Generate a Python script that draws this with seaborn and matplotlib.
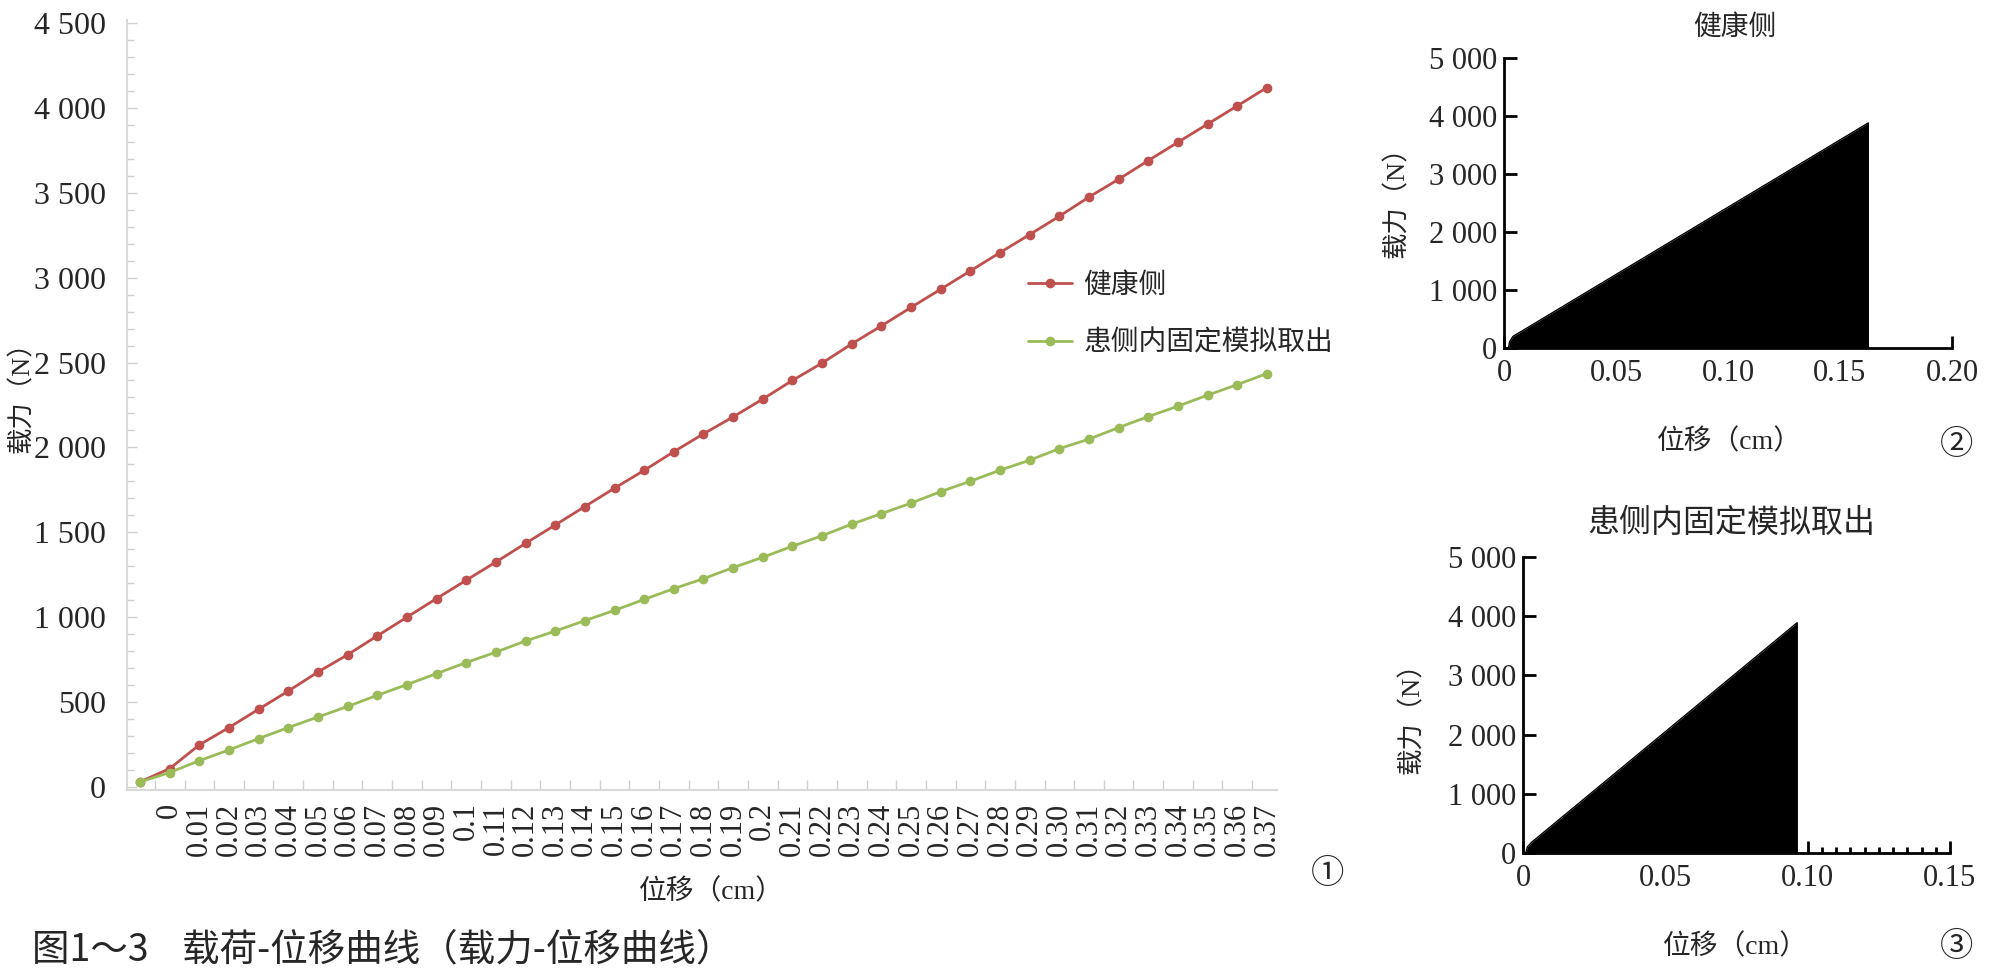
import pandas as pd
import matplotlib.pyplot as plt
import seaborn as sns
from matplotlib.lines import Line2D
from matplotlib.ticker import MultipleLocator, FixedLocator, FuncFormatter

# panel 1: load (N) at each displacement step
disp_labels = ['', '0', '0.01', '0.02', '0.03', '0.04', '0.05', '0.06', '0.07', '0.08', '0.09',
               '0.1', '0.11', '0.12', '0.13', '0.14', '0.15', '0.16', '0.17', '0.18', '0.19',
               '0.2', '0.21', '0.22', '0.23', '0.24', '0.25', '0.26', '0.27', '0.28', '0.29',
               '0.30', '0.31', '0.32', '0.33', '0.34', '0.35', '0.36', '0.37']
healthy_load = [30, 108, 248, 350, 458, 565, 677, 779, 890, 1000,
                1110, 1218, 1325, 1435, 1543, 1652, 1760, 1865, 1975, 2080,
                2180, 2285, 2395, 2497, 2610, 2716, 2825, 2932, 3040, 3148,
                3254, 3362, 3475, 3580, 3690, 3798, 3905, 4012, 4120]
removed_load = [30, 85, 155, 218, 285, 350, 412, 474, 540, 603,
                668, 733, 794, 860, 918, 980, 1040, 1105, 1168, 1227,
                1292, 1353, 1418, 1480, 1548, 1610, 1672, 1740, 1801, 1866,
                1925, 1993, 2049, 2117, 2182, 2243, 2308, 2370, 2435]
series_names = ['健康侧', '患侧内固定模拟取出']
colors = ['#c0504d', '#9bbb59']

# panels 2 and 3: outline of the dense load trace (cm, N)
healthy_disp = [0.002, 0.0025, 0.004, 0.1626, 0.1626]
healthy_trace = [0, 110, 200, 3880, 0]
removed_disp = [0.001, 0.0015, 0.003, 0.0963, 0.0963]
removed_trace = [0, 100, 180, 3890, 0]

W, H = 1993, 977
sns.set_theme(style='white')
plt.rcParams['font.family'] = ['Liberation Serif', 'Noto Sans CJK SC']
CJK = ['Noto Sans CJK SC']

fig = plt.figure(figsize=(W / 100, H / 100), dpi=100)


def box(l, t, r, b):
    return [l / W, 1 - b / H, (r - l) / W, (b - t) / H]


def thousands(v, p):
    return f"{int(round(v)):,}".replace(',', ' ')


# ---- panel 1
df = pd.DataFrame({
    'pos': list(range(len(disp_labels))) * 2,
    'load': healthy_load + removed_load,
    'series': [series_names[0]] * len(healthy_load) + [series_names[1]] * len(removed_load),
})
ax = fig.add_axes(box(127, 20, 1277, 790))
sns.lineplot(data=df, x='pos', y='load', hue='series', palette=colors, marker='o',
             markersize=7, markeredgewidth=0, linewidth=2, legend=False, ax=ax)
ax.set_xlim(-0.44, 38.34)
ax.set_ylim(-18, 4518)
ax.set_xlabel('')
ax.set_ylabel('')
for s in ['top', 'right']:
    ax.spines[s].set_visible(False)
for s in ['left', 'bottom']:
    ax.spines[s].set_color('#d9d9d9')
    ax.spines[s].set_linewidth(1.5)
ax.xaxis.set_major_locator(FixedLocator(range(len(disp_labels))))
ax.set_xticklabels(disp_labels, rotation=90, fontsize=22)
ax.xaxis.set_minor_locator(FixedLocator([i + 0.5 for i in range(-1, len(disp_labels))]))
ax.tick_params(axis='x', which='both', bottom=True)
ax.tick_params(axis='x', which='major', length=0, pad=9)
ax.tick_params(axis='x', which='minor', direction='in', length=7, color='#d0d0d0', width=1)
ax.yaxis.set_major_locator(MultipleLocator(500))
ax.yaxis.set_minor_locator(MultipleLocator(100))
ax.yaxis.set_major_formatter(FuncFormatter(thousands))
ax.tick_params(axis='y', which='both', left=True, direction='in', color='#d0d0d0', width=1)
ax.tick_params(axis='y', which='major', length=7, labelsize=23, pad=15)
ax.tick_params(axis='y', which='minor', length=5)

handles = [Line2D([], [], color=c, marker='o', markersize=7, markeredgewidth=0, linewidth=2)
           for c in colors]
fig.legend(handles, series_names, loc='center left', bbox_to_anchor=(1028 / W, 1 - 314 / H),
           frameon=False, prop={'family': CJK, 'size': 20}, handlelength=1.6,
           handletextpad=0.4, labelspacing=1.0, borderaxespad=0, borderpad=0)

fig.text(21 / W, 1 - 391 / H, '载力（N）', rotation=90, ha='center', va='center', fontsize=19)
fig.text(711 / W, 1 - 892 / H, '位移（cm）', ha='center', va='center', fontsize=20)
fig.text(1328 / W, 1 - 874 / H, '①', ha='center', va='center', fontsize=24)


# ---- panels 2 and 3
def small_panel(rect, disp, load, xmax, minor):
    a = fig.add_axes(rect)
    sns.lineplot(x=disp, y=load, color='black', linewidth=1, estimator=None, sort=False, ax=a)
    a.fill_between(disp, load, color='black', linewidth=0)
    a.set_xlim(0, xmax)
    a.set_ylim(0, 5000)
    for s in ['top', 'right']:
        a.spines[s].set_visible(False)
    for s in ['left', 'bottom']:
        a.spines[s].set_color('black')
        a.spines[s].set_linewidth(2)
    a.xaxis.set_major_locator(MultipleLocator(0.05))
    a.xaxis.set_major_formatter(FuncFormatter(lambda v, p: '0' if abs(v) < 1e-9 else f'{v:.2f}'))
    a.yaxis.set_major_locator(MultipleLocator(1000))
    a.yaxis.set_major_formatter(FuncFormatter(thousands))
    a.tick_params(which='both', bottom=True, left=True)
    a.tick_params(which='major', direction='in', length=9, width=2, color='black', labelsize=22)
    a.tick_params(axis='y', pad=5)
    a.tick_params(axis='x', pad=8)
    if minor:
        a.xaxis.set_minor_locator(MultipleLocator(minor))
        a.tick_params(axis='x', which='minor', direction='in', length=4.5, width=2, color='black')
    return a


small_panel(box(1504, 58, 1952, 348), healthy_disp, healthy_trace, 0.20, None)
fig.text(1735 / W, 1 - 28 / H, series_names[0], ha='center', va='center', fontsize=20)
fig.text(1396 / W, 1 - 196 / H, '载力（N）', rotation=90, ha='center', va='center', fontsize=19)
fig.text(1729 / W, 1 - 442 / H, '位移（cm）', ha='center', va='center', fontsize=20)
fig.text(1957 / W, 1 - 445 / H, '②', ha='center', va='center', fontsize=24)

small_panel(box(1523, 557, 1950, 853), removed_disp, removed_trace, 0.15, 0.005)
fig.text(1731 / W, 1 - 524 / H, series_names[1], ha='center', va='center', fontsize=23)
fig.text(1411 / W, 1 - 712 / H, '载力（N）', rotation=90, ha='center', va='center', fontsize=19)
fig.text(1735 / W, 1 - 947 / H, '位移（cm）', ha='center', va='center', fontsize=20)
fig.text(1957 / W, 1 - 947 / H, '③', ha='center', va='center', fontsize=24)

fig.text(32 / W, 1 - 950 / H, '图1～3    载荷-位移曲线（载力-位移曲线）', ha='left', va='center',
         family=CJK, fontsize=27)

fig.savefig('out.png', dpi=100)
